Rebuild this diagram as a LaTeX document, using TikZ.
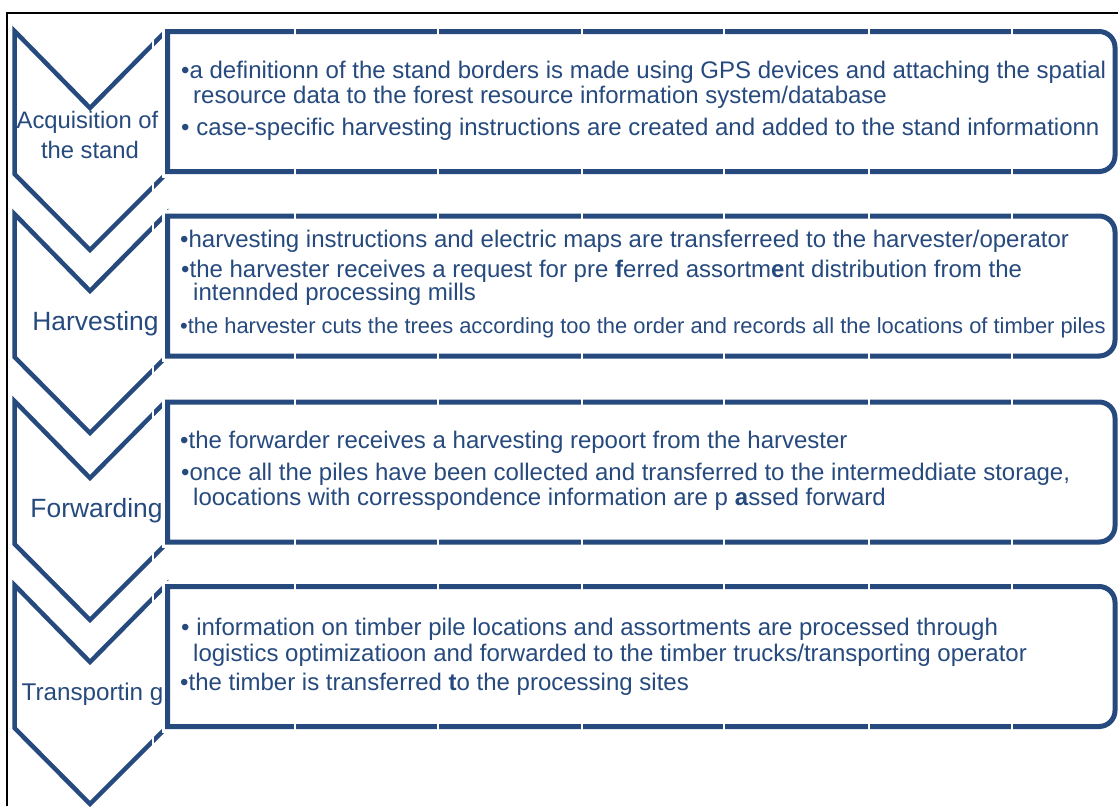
\documentclass[tikz,border=0pt]{standalone}
\usepackage{fontspec}
\setmainfont{Liberation Sans}
\definecolor{sblue}{HTML}{264A7E}
\begin{document}
\begin{tikzpicture}[x=1pt,y=-1pt,
  chev/.style={draw=sblue,line width=4.5pt,line join=miter},
  boxhalo/.style={draw=white,fill=white,line width=12pt,rounded corners=0pt},
  boxline/.style={draw=sblue,line width=5pt},
  grid/.style={draw=white,line width=1.6pt},
  body/.style={anchor=base west,inner sep=0pt,text=sblue,font=\fontsize{24}{28}\selectfont},
  small/.style={anchor=base west,inner sep=0pt,text=sblue,font=\fontsize{21.9}{26}\selectfont},
  lab/.style={anchor=base,inner sep=0pt,text=sblue}]
\useasboundingbox (0,0) rectangle (1118,806);
\fill[white] (0,0) rectangle (1118,806);
\draw[black,line width=2pt] (7,806) -- (7,13) -- (1118,13);
% chevrons
\foreach \T/\n in {31/a,214/b,401/c,585/d}{
  \draw[chev] (14.5,\T) -- (14.5,\T+143) -- (90,\T+219) -- (166,\T+143) -- (166,\T) -- (90,\T+77) -- cycle;
}
% boxes
\foreach \T/\n in {31.5/a,216/b,402/c,586.5/d}{
  \path[boxhalo] (167.5,\T) -- (1115,\T) -- (1115,\T+140) -- (167.5,\T+140) -- cycle;
  \draw[boxline] (1100,\T) -- (167.5,\T) -- (167.5,\T+140) -- (1100,\T+140)
     [rounded corners=16pt] -- (1115,\T+140) -- (1115,\T) -- (1100,\T);
}
% white grid lines
\foreach \x in {153,295,438,582,724,869,1012}{
  \draw[grid] (\x,20) -- (\x,806);
}
% labels
\node[lab,font=\fontsize{23.8}{28}\selectfont] (l1a) at (87.5,128) {Acquisition of};
\node[lab,font=\fontsize{23.8}{28}\selectfont] (l1b) at (90,158) {the stand};
\node[lab,font=\fontsize{26.4}{30}\selectfont] (l2) at (95.5,330) {Harvesting};
\node[lab,font=\fontsize{26.4}{30}\selectfont] (l3) at (96.5,517) {Forwarding};
\node[lab,font=\fontsize{24.2}{28}\selectfont] (l4) at (92.5,700) {Transportin g};
% box 1
\node[body] (t1a) at (181,78) {•a definitionn of the stand borders is made using GPS devices and attaching the spatial};
\node[body] (t1b) at (193,103) {resource data to the forest resource information system/database};
\node[body] (t1c) at (181,135) {• case-specific harvesting instructions are created and added to the stand informationn};
% box 2
\node[body] (t2a) at (180,247) {•harvesting instructions and electric maps are transferreed to the harvester/operator};
\node[body] (t2b) at (181,277) {•the harvester receives a request for pre \textbf{f}erred assortm\textbf{e}nt distribution from the};
\node[body] (t2c) at (193,300) {intennded processing mills};
\node[small] (t2d) at (180,333) {•the harvester cuts the trees according too the order and records all the locations of timber piles};
% box 3
\node[body] (t3a) at (180,448) {•the forwarder receives a harvesting repoort from the harvester};
\node[body] (t3b) at (181,480) {•once all the piles have been collected and transferred to the intermeddiate storage,};
\node[body] (t3c) at (193,505) {loocations with corresspondence information are p \textbf{a}ssed forward};
% box 4
\node[body] (t4a) at (181,635) {• information on timber pile locations and assortments are processed through};
\node[body] (t4b) at (193,661) {logistics optimizatioon and forwarded to the timber trucks/transporting operator};
\node[body] (t4c) at (180,690) {•the timber is transferred \textbf{t}o the processing sites};
\end{tikzpicture}
\end{document}
